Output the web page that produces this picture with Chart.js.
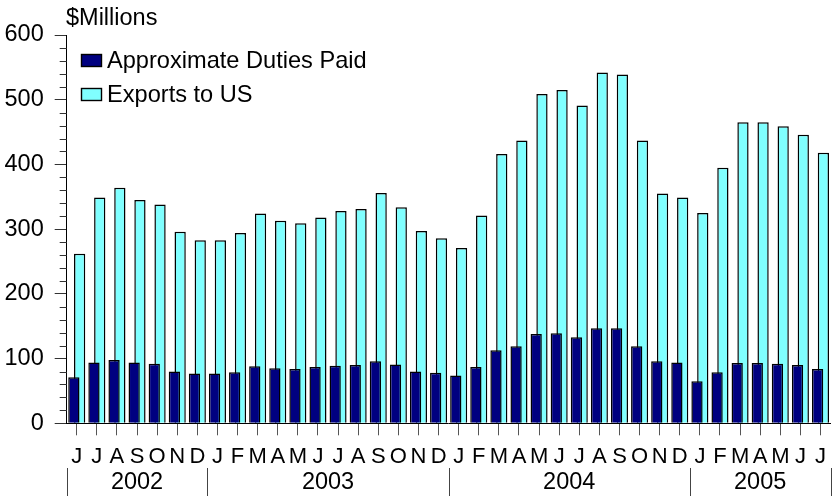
<!DOCTYPE html>
<html><head><meta charset="utf-8">
<script src="https://cdn.jsdelivr.net/npm/chart.js@4"></script>
<style>html,body{margin:0;padding:0;background:#fff;overflow:hidden}canvas{display:block}</style>
</head><body>
<canvas id="c" width="834" height="496"></canvas>
<script>
// ---- data ----
const months = ['J','J','A','S','O','N','D',
                'J','F','M','A','M','J','J','A','S','O','N','D',
                'J','F','M','A','M','J','J','A','S','O','N','D',
                'J','F','M','A','M','J','J'];
const yearLabels = ['2002','2003','2004','2005'];
const monthsPerYear = [7, 12, 12, 7];
const duties = [71, 94, 98, 94, 92, 80, 77,
                77, 79, 88, 85, 84, 87, 89, 90, 96, 91, 80, 78,
                74, 87, 113, 119, 138, 139, 133, 147, 147, 119, 96, 94,
                65, 79, 93, 93, 92, 90, 84];
const exportsUS = [262, 349, 364, 345, 338, 296, 283,
                   283, 294, 324, 313, 309, 318, 328, 331, 356, 334, 297, 286,
                   271, 321, 416, 437, 509, 515, 491, 542, 539, 437, 355, 349,
                   325, 395, 465, 465, 459, 446, 418];
const yTicks = [0, 100, 200, 300, 400, 500, 600];
const seriesNames = ['Approximate Duties Paid', 'Exports to US'];
const unitLabel = '$Millions';

const FONT = '"Liberation Sans", Arial, sans-serif';

const decor = {
  id: 'decor',
  afterDraw(chart) {
    const ctx = chart.ctx;
    const xs = chart.scales.x, ys = chart.scales.y;
    const left = chart.chartArea.left;
    ctx.save();
    // minor y ticks
    ctx.strokeStyle = '#333';
    ctx.lineWidth = 1;
    for (let v = 20; v < 600; v += 20) {
      if (v % 100 === 0) continue;
      const y = Math.round(ys.getPixelForValue(v)) + 0.5;
      ctx.beginPath(); ctx.moveTo(left - 7, y); ctx.lineTo(left, y); ctx.stroke();
    }
    // year labels and separators
    const half = (xs.getPixelForValue(1) - xs.getPixelForValue(0)) / 2;
    let start = 0;
    ctx.fillStyle = '#000';
    ctx.font = '23.5px ' + FONT;
    ctx.textAlign = 'center';
    ctx.textBaseline = 'middle';
    ctx.strokeStyle = '#444';
    const seps = [];
    yearLabels.forEach((lab, i) => {
      const l = xs.getPixelForValue(start) - half;
      const r = xs.getPixelForValue(start + monthsPerYear[i] - 1) + half;
      seps.push(l);
      if (i === yearLabels.length - 1) seps.push(r);
      ctx.fillText(lab, (l + r) / 2, 483);
      start += monthsPerYear[i];
    });
    seps.forEach(x => {
      const px = Math.round(x) + 0.5;
      ctx.beginPath(); ctx.moveTo(px, 468); ctx.lineTo(px, 496); ctx.stroke();
    });
    // unit label
    ctx.textAlign = 'left';
    ctx.textBaseline = 'alphabetic';
    ctx.font = '23.5px ' + FONT;
    ctx.fillText(unitLabel, 66, 25);
    // legend
    ctx.font = '23.6px ' + FONT;
    chart.data.datasets.forEach((ds, i) => {
      const cy = 60.5 + i * 34;
      ctx.fillStyle = ds.backgroundColor;
      ctx.fillRect(81, cy - 6.5, 21, 13);
      ctx.strokeStyle = '#000';
      ctx.lineWidth = 1.4;
      ctx.strokeRect(81.5, cy - 6, 20, 12);
      ctx.fillStyle = '#000';
      ctx.textBaseline = 'middle';
      ctx.fillText(ds.label, 107, cy + 1);
    });
    ctx.restore();
  }
};

new Chart(document.getElementById('c'), {
  type: 'bar',
  data: {
    labels: months,
    datasets: [
      { label: seriesNames[0], data: duties, backgroundColor: '#000080', borderColor: '#000',
        borderWidth: 1.5, categoryPercentage: 0.575, barPercentage: 1.95 },
      { label: seriesNames[1], data: exportsUS, backgroundColor: '#80ffff', borderColor: '#000',
        borderWidth: 1.5, categoryPercentage: 0.575, barPercentage: 1.95 }
    ]
  },
  options: {
    responsive: false, animation: false, devicePixelRatio: 1,
    layout: { padding: { left: 0, right: 0.5, top: 35, bottom: 0 } },
    plugins: { legend: { display: false }, tooltip: { enabled: false }, title: { display: false } },
    scales: {
      x: {
        grid: { display: true, drawOnChartArea: false, offset: false, tickLength: 12, color: '#555', tickColor: '#555' },
        border: { display: true, color: '#000', width: 1 },
        ticks: { font: { family: FONT, size: 22 }, color: '#000', padding: 8, maxRotation: 0, autoSkip: false },
        afterFit(s) { s.height = 72.7; }
      },
      y: {
        min: 0, max: 600,
        afterBuildTicks(s) { s.ticks = yTicks.map(v => ({ value: v })); },
        grid: { display: true, drawOnChartArea: false, tickLength: 12, color: '#333', tickColor: '#333' },
        border: { display: true, color: '#000', width: 1 },
        ticks: { font: { family: FONT, size: 23.5 }, color: '#000', padding: 11 },
        afterFit(s) { s.width = 66.7; }
      }
    }
  },
  plugins: [decor]
});
</script>
</body></html>
